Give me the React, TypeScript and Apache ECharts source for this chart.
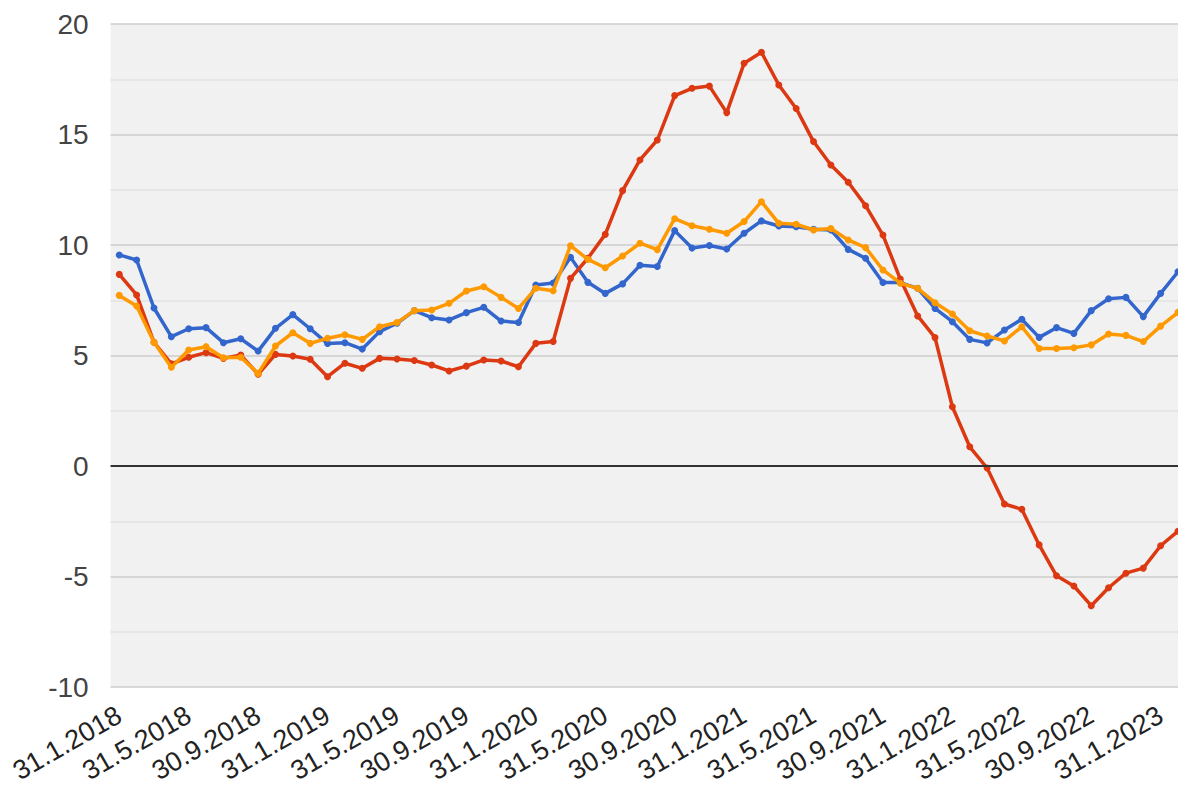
import React, { useEffect, useRef } from "react";
import * as echarts from "echarts";

const tickLabels = [
  "31.1.2018", "31.5.2018", "30.9.2018",
  "31.1.2019", "31.5.2019", "30.9.2019",
  "31.1.2020", "31.5.2020", "30.9.2020",
  "31.1.2021", "31.5.2021", "30.9.2021",
  "31.1.2022", "31.5.2022", "30.9.2022",
  "31.1.2023",
];
const tickPositions = [0, 4, 8, 12, 16, 20, 24, 28, 32, 36, 40, 44, 48, 52, 56, 60];

const blueValues = [
  9.55, 9.32, 7.15, 5.85, 6.21, 6.26, 5.58, 5.76, 5.2, 6.23, 6.85, 6.21,
  5.54, 5.58, 5.29, 6.08, 6.46, 7.03, 6.71, 6.61, 6.94, 7.18, 6.56, 6.49,
  8.19, 8.28, 9.44, 8.31, 7.81, 8.24, 9.08, 9.03, 10.65, 9.86, 9.98, 9.82,
  10.53, 11.09, 10.86, 10.83, 10.71, 10.68, 9.8, 9.4, 8.3, 8.3, 8.04, 7.13,
  6.53, 5.73, 5.57, 6.15, 6.64, 5.82, 6.26, 6.0, 7.03, 7.57, 7.63, 6.76,
  7.81, 8.79,
];
const redValues = [
  8.67, 7.74, 5.6, 4.62, 4.92, 5.13, 4.87, 5.02, 4.15, 5.05, 4.98, 4.83,
  4.04, 4.65, 4.42, 4.87, 4.84, 4.77, 4.57, 4.3, 4.52, 4.8, 4.75, 4.49,
  5.55, 5.63, 8.49, 9.4, 10.48, 12.46, 13.85, 14.75, 16.76, 17.09, 17.19, 15.99,
  18.22, 18.72, 17.24, 16.18, 14.68, 13.62, 12.84, 11.78, 10.45, 8.46, 6.79, 5.81,
  2.68, 0.87, -0.09, -1.72, -1.96, -3.57, -4.97, -5.43, -6.32, -5.51, -4.85, -4.62,
  -3.61, -2.95,
];
const orangeValues = [
  7.72, 7.24, 5.6, 4.47, 5.25, 5.4, 4.9, 4.92, 4.19, 5.43, 6.03, 5.55,
  5.78, 5.94, 5.73, 6.3, 6.49, 7.03, 7.06, 7.36, 7.92, 8.11, 7.63, 7.13,
  8.04, 7.93, 9.97, 9.35, 8.97, 9.5, 10.08, 9.79, 11.19, 10.87, 10.71, 10.53,
  11.06, 11.96, 10.98, 10.94, 10.68, 10.75, 10.23, 9.88, 8.87, 8.27, 8.04, 7.39,
  6.88, 6.12, 5.88, 5.66, 6.3, 5.32, 5.32, 5.35, 5.48, 5.97, 5.91, 5.63,
  6.33, 6.95,
];

const seriesNames = ["Series 1", "Series 2", "Series 3"];
const seriesColors = ["#3366cc", "#dc3912", "#ff9900"];

function toPoints(values: number[]) {
  return values.map((v, i) => [i, v]);
}

export default function App() {
  const ref = useRef<HTMLDivElement>(null);

  useEffect(() => {
    if (!ref.current) return;
    const chart = echarts.init(ref.current, null, { renderer: "svg" });
    const font = "Arial, 'Liberation Sans', sans-serif";
    const allValues = [blueValues, redValues, orangeValues];
    chart.setOption({
      animation: false,
      backgroundColor: "#ffffff",
      grid: {
        left: 110.6,
        right: 0,
        top: 24,
        bottom: 100,
        show: true,
        backgroundColor: "#f1f1f1",
        borderWidth: 0,
      },
      xAxis: {
        type: "value",
        min: -0.5,
        max: 61,
        axisLine: { show: false },
        axisTick: { show: false },
        splitLine: { show: false },
        axisLabel: {
          customValues: tickPositions,
          rotate: 30,
          fontSize: 27,
          color: "#222",
          fontFamily: font,
          margin: 26,
          formatter: (v: number) => {
            const k = tickPositions.indexOf(Math.round(v));
            return k >= 0 ? tickLabels[k] : "";
          },
        },
      },
      yAxis: {
        type: "value",
        min: -10,
        max: 20,
        interval: 2.5,
        axisLine: { show: false },
        axisTick: { show: false },
        axisLabel: {
          fontSize: 28,
          color: "#444",
          fontFamily: font,
          margin: 22,
          formatter: (v: number) => (Math.abs(v % 5) < 1e-9 ? String(v) : ""),
        },
        splitLine: {
          show: true,
          lineStyle: { color: ["#cccccc", "#e2e2e2"], width: 1.6 },
        },
      },
      series: [
        {
          type: "line",
          name: "zero",
          data: [],
          z: 1,
          silent: true,
          markLine: {
            silent: true,
            symbol: "none",
            label: { show: false },
            lineStyle: { color: "#333333", width: 2, type: "solid" },
            data: [{ yAxis: 0 }],
          },
        },
        ...allValues.map((vals, k) => ({
          type: "line",
          name: seriesNames[k],
          data: toPoints(vals),
          z: 3 + k,
          symbol: "circle",
          symbolSize: 7,
          showSymbol: true,
          lineStyle: { color: seriesColors[k], width: 3.5 },
          itemStyle: { color: seriesColors[k] },
        })),
      ],
    });
    return () => chart.dispose();
  }, []);

  return (
    <div
      ref={ref}
      style={{ position: "fixed", left: 0, top: 0, width: 1178, height: 787 }}
    />
  );
}
